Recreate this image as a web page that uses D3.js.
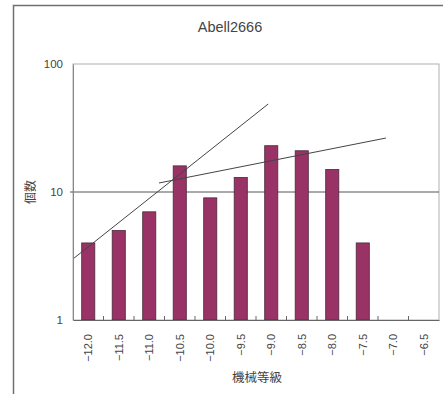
<!DOCTYPE html>
<html><head><meta charset="utf-8">
<script src="https://cdn.jsdelivr.net/npm/d3@7"></script>
<style>body{margin:0;background:#fff}svg{display:block}</style>
</head><body>
<script>
const categories = ["-12.0","-11.5","-11.0","-10.5","-10.0","-9.5","-9.0","-8.5","-8.0","-7.5","-7.0","-6.5"];
const counts = [4,5,7,16,9,13,23,21,15,4,0,0];
const yTicks = [1,10,100];
const steepLine = [[-12.25,3.0],[-9.05,48.7]];
const flatLine = [[-10.84,11.76],[-7.12,26.4]];
const title = "Abell2666";
const xTitle = "機械等級";
const yTitle = "個数";

const W=443,H=394;
const L=73,R=439,T=64,B=320;
const svg=d3.select("body").append("svg").attr("width",W).attr("height",H);
const font="'Liberation Sans', Arial, sans-serif";
const cjk="'Noto Sans CJK JP', sans-serif";

svg.append("rect").attr("x",13.5).attr("y",5.5).attr("width",W+20).attr("height",H+20)
  .attr("fill","#fff").attr("stroke","#707070").attr("stroke-width",1.5);

const x=d3.scaleBand().domain(categories).range([L,R]).paddingInner(0.57).paddingOuter(0.285);
const xl=d3.scaleLinear().domain([-12.25,-6.25]).range([L,R]);
const y=d3.scaleLog().domain([1,100]).range([B,T]);

svg.append("rect").attr("x",L).attr("y",T).attr("width",R-L).attr("height",B-T)
  .attr("fill","none").attr("stroke","#b0b0b0").attr("stroke-width",1);
svg.append("line").attr("x1",L-3).attr("x2",R).attr("y1",y(10)).attr("y2",y(10))
  .attr("stroke","#555").attr("stroke-width",1);

svg.selectAll("rect.bar").data(categories.map((c,i)=>({c,v:counts[i]})).filter(d=>d.v>0))
  .join("rect").attr("class","bar")
  .attr("x",d=>x(d.c)).attr("width",x.bandwidth())
  .attr("y",d=>y(d.v)).attr("height",d=>B-y(d.v))
  .attr("fill","#993366").attr("stroke","#4a2a3a").attr("stroke-width",0.8);

const line=d3.line().x(d=>xl(d[0])).y(d=>y(d[1]));
[steepLine,flatLine].forEach(l=>svg.append("path").attr("d",line(l))
  .attr("fill","none").attr("stroke","#444").attr("stroke-width",1));

const xa=svg.append("g").attr("transform",`translate(0,${B})`)
  .call(d3.axisBottom(x).tickSize(0).tickFormat(d=>d.replace("-","\u2212")));
xa.select(".domain").attr("stroke","#666").attr("stroke-width",1.2);
xa.selectAll("text").attr("font-family",font).attr("font-size",11).attr("fill","#444")
  .attr("transform","rotate(-90)").attr("text-anchor","end").attr("dy","0.35em").attr("x",-14).attr("y",0);
svg.selectAll("line.bt").data(categories.slice(1)).join("line").attr("class","bt")
  .attr("x1",d=>x(d)-x.step()*x.paddingInner()/2).attr("x2",d=>x(d)-x.step()*x.paddingInner()/2)
  .attr("y1",B).attr("y2",B-4).attr("stroke","#666");

const ya=svg.append("g").attr("transform",`translate(${L},0)`)
  .call(d3.axisLeft(y).tickValues(yTicks).tickSize(0).tickFormat(d3.format("d")));
ya.select(".domain").attr("stroke","#888");
ya.selectAll("text").attr("font-family",font).attr("font-size",11.5).attr("fill","#444").attr("x",-10);

svg.append("text").attr("x",230).attr("y",32).attr("text-anchor","middle")
  .attr("font-family",font).attr("font-size",14.5).attr("fill","#444").text(title);
svg.append("text").attr("x",257).attr("y",382).attr("text-anchor","middle")
  .attr("font-family",cjk).attr("font-size",12.5).attr("fill","#444").text(xTitle);
svg.append("text").attr("transform","translate(35,192) rotate(-90)").attr("text-anchor","middle")
  .attr("font-family",cjk).attr("font-size",12).attr("fill","#444").text(yTitle);
</script>
</body></html>
